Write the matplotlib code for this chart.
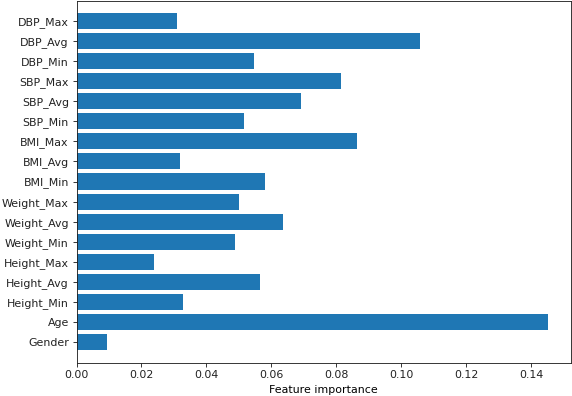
import numpy as np
import matplotlib
matplotlib.use("Agg")
import matplotlib.pyplot as plt

features = ["Gender", "Age", "Height_Min", "Height_Avg", "Height_Max",
            "Weight_Min", "Weight_Avg", "Weight_Max",
            "BMI_Min", "BMI_Avg", "BMI_Max",
            "SBP_Min", "SBP_Avg", "SBP_Max",
            "DBP_Min", "DBP_Avg", "DBP_Max"]
importances = [0.0093, 0.1451, 0.0328, 0.0565, 0.0238,
               0.0488, 0.0635, 0.0500,
               0.0580, 0.0318, 0.0863,
               0.0515, 0.0691, 0.0814,
               0.0546, 0.1057, 0.0308]
xticks = [0.00, 0.02, 0.04, 0.06, 0.08, 0.10, 0.12, 0.14]

s = 1.1
plt.rcParams.update({
    "font.size": 10 * s,
    "xtick.major.size": 3.5 * s,
    "ytick.major.size": 3.5 * s,
    "xtick.major.pad": 3.5 * s,
    "ytick.major.pad": 3.5 * s,
    "axes.linewidth": 0.8 * s,
    "xtick.major.width": 0.8 * s,
    "ytick.major.width": 0.8 * s,
    "axes.labelpad": 4.0 * s,
    "text.color": "#222222",
    "xtick.color": "#222222",
    "ytick.color": "#222222",
    "axes.edgecolor": "#222222",
})

fig = plt.figure(figsize=(572/72, 396/72), dpi=72)
ax = fig.add_axes([76.5/572, 33.5/396, (570.7-76.5)/572, (395.5-33.5)/396])
n = len(features)
ax.barh(np.arange(n), importances, align="center", color="#1f77b4")
ax.set_yticks(np.arange(n))
ax.set_yticklabels(features)
ax.set_ylim(-1, n)
ax.set_xticks(xticks)
ax.set_xticklabels([f"{t:.2f}" for t in xticks])
ax.set_xlim(0, 0.1521)
ax.set_xlabel("Feature importance")
fig.savefig("out.png", dpi=72)
